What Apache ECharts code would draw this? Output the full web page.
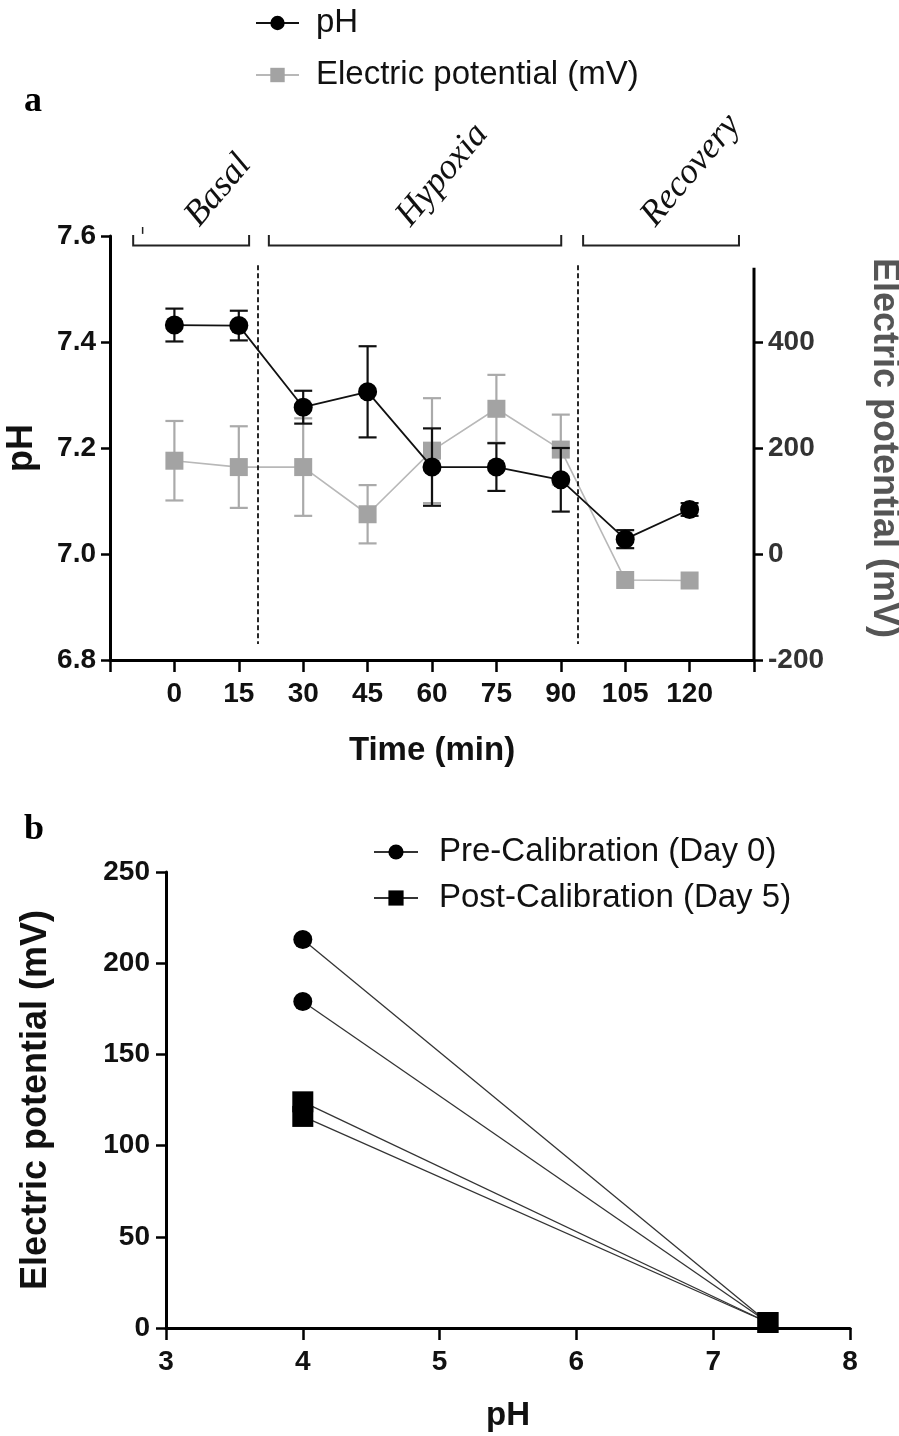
<!DOCTYPE html>
<html><head><meta charset="utf-8">
<script src="https://cdn.jsdelivr.net/npm/echarts@6/dist/echarts.min.js"></script>
<style>html,body{margin:0;padding:0;background:#fff}#c{width:899px;height:1436px}</style>
</head><body><div id="c"></div>
<script>
// ---------- Panel a data ----------
const timeMin = [0, 15, 30, 45, 60, 75, 90, 105, 120];
const phMean  = [7.432, 7.431, 7.277, 7.306, 7.164, 7.164, 7.140, 7.028, 7.084];
const phSD    = [0.031, 0.028, 0.031, 0.086, 0.073, 0.045, 0.060, 0.017, 0.012];
const epMean  = [176, 164, 164, 75, 195, 274, 197, -49, -50];
const epSD    = [75, 77, 92, 55, 99, 64, 66, 0, 0];
const phaseNames   = ['Basal', 'Hypoxia', 'Recovery'];
const phaseStart   = [-9.6, 22.0, 95.2];
const phaseEnd     = [17.4, 90.1, 131.5];
const phaseLabelAt = [7.3, 56.5, 113.5];
const phaseBoundaries = [19.5, 94.0];
// ---------- Panel b data ----------
const calPH = [4, 7.4];
const preDay0  = [[213, 3], [179, 3]];
const postDay5 = [[124, 3], [116, 3]];

const FONT = '"Liberation Sans", Arial, sans-serif';
const SERIF = '"Liberation Serif", "Times New Roman", serif';

function errRender(color) {
  return function (params, api) {
    const x = api.value(0), lo = api.value(1), hi = api.value(2);
    const p1 = api.coord([x, hi]), p2 = api.coord([x, lo]);
    const w = 9;
    const style = { stroke: color, lineWidth: 2.2, fill: null };
    return { type: 'group', children: [
      { type: 'line', shape: { x1: p1[0], y1: p1[1], x2: p2[0], y2: p2[1] }, style: style },
      { type: 'line', shape: { x1: p1[0] - w, y1: p1[1], x2: p1[0] + w, y2: p1[1] }, style: style },
      { type: 'line', shape: { x1: p2[0] - w, y1: p2[1], x2: p2[0] + w, y2: p2[1] }, style: style }
    ]};
  };
}

const phPairs = timeMin.map((t, i) => [t, phMean[i]]);
const epPairs = timeMin.map((t, i) => [t, epMean[i]]);
const phErr = timeMin.map((t, i) => [t, phMean[i] - phSD[i], phMean[i] + phSD[i]]).filter((d, i) => phSD[i] > 0);
const epErr = timeMin.map((t, i) => [t, epMean[i] - epSD[i], epMean[i] + epSD[i]]).filter((d, i) => epSD[i] > 0);

const tickLabel = { fontFamily: FONT, fontWeight: 'bold', fontSize: 28, color: '#111' };
const titleStyle = { fontFamily: FONT, fontWeight: 'bold', fontSize: 33, color: '#111' };
const vTitleStyle = { fontFamily: FONT, fontWeight: 'bold', fontSize: 36, color: '#111' };
const axLine = { show: true, onZero: false, lineStyle: { color: '#000', width: 3 } };
const axTick = (len) => ({ show: true, length: len, lineStyle: { color: '#000', width: 2.5 } });

const chart = echarts.init(document.getElementById('c'), null, { renderer: 'canvas' });

const bSeries = [];
preDay0.forEach(v => bSeries.push({
  name: 'Pre-Calibration (Day 0)', type: 'line', xAxisIndex: 1, yAxisIndex: 2,
  data: calPH.map((p, k) => [p, v[k]]), symbol: 'circle', symbolSize: 19,
  itemStyle: { color: '#000' }, lineStyle: { color: '#333', width: 1.3 }, z: 3
}));
postDay5.forEach(v => bSeries.push({
  name: 'Post-Calibration (Day 5)', type: 'line', xAxisIndex: 1, yAxisIndex: 2,
  data: calPH.map((p, k) => [p, v[k]]), symbol: 'rect', symbolSize: 21,
  itemStyle: { color: '#000' }, lineStyle: { color: '#333', width: 1.3 }, z: 4
}));

chart.setOption({
  animation: false,
  backgroundColor: '#fff',
  grid: [
    { left: 110, top: 236, width: 644, height: 424, containLabel: false, outerBoundsMode: 'none' },
    { left: 166, top: 872, width: 684, height: 456, containLabel: false, outerBoundsMode: 'none' }
  ],
  legend: [
    { data: ['pH', 'Electric potential (mV)'], orient: 'vertical', left: 250, top: 1,
      itemWidth: 43, itemHeight: 18, itemGap: 18, selectedMode: false,
      textStyle: { fontFamily: FONT, fontSize: 33, color: '#111', lineHeight: 34, padding: [0, 0, 0, 12] } },
    { data: ['Pre-Calibration (Day 0)', 'Post-Calibration (Day 5)'], orient: 'vertical', left: 368, top: 830,
      itemWidth: 44, itemHeight: 19, itemGap: 12, selectedMode: false,
      textStyle: { fontFamily: FONT, fontSize: 33, color: '#111', lineHeight: 34, padding: [0, 0, 0, 16] } }
  ],
  xAxis: [
    { gridIndex: 0, type: 'value', min: -15, max: 135, interval: 15,
      axisLine: axLine, axisTick: axTick(12), splitLine: { show: false },
      axisLabel: Object.assign({ margin: 20, formatter: v => (v < 0 || v > 120) ? '' : String(v) }, tickLabel),
      name: 'Time (min)', nameLocation: 'middle', nameGap: 74, nameTextStyle: titleStyle },
    { gridIndex: 1, type: 'value', min: 3, max: 8, interval: 1,
      axisLine: axLine, axisTick: axTick(12), splitLine: { show: false },
      axisLabel: Object.assign({ margin: 20 }, tickLabel),
      name: 'pH', nameLocation: 'middle', nameGap: 71, nameTextStyle: titleStyle }
  ],
  yAxis: [
    { gridIndex: 0, type: 'value', min: 6.8, max: 7.6, interval: 0.2, position: 'left',
      axisLine: axLine, axisTick: axTick(9), splitLine: { show: false },
      axisLabel: Object.assign({ margin: 14, formatter: v => v.toFixed(1) }, tickLabel),
      name: 'pH', nameLocation: 'middle', nameRotate: 90, nameGap: 70, nameTextStyle: vTitleStyle },
    { gridIndex: 0, type: 'value', min: -200, max: 600, interval: 200, position: 'right',
      axisLine: { show: false, onZero: false },
      axisTick: Object.assign(axTick(9), { customValues: [-200, 0, 200, 400] }),
      splitLine: { show: false },
      axisLabel: Object.assign({ margin: 14, customValues: [-200, 0, 200, 400], formatter: v => v > 400 ? '' : String(v) }, tickLabel, { color: '#333' }),
      name: 'Electric potential (mV)', nameLocation: 'middle', nameRotate: -90, nameGap: 112,
      nameTextStyle: Object.assign({}, vTitleStyle, { color: '#555' }) },
    { gridIndex: 1, type: 'value', min: 0, max: 250, interval: 50,
      axisLine: axLine, axisTick: axTick(10), splitLine: { show: false },
      axisLabel: Object.assign({ margin: 16 }, tickLabel),
      name: 'Electric potential (mV)', nameLocation: 'middle', nameRotate: 90, nameGap: 112, nameTextStyle: vTitleStyle }
  ],
  series: [
    { name: 'epErr', type: 'custom', xAxisIndex: 0, yAxisIndex: 1, data: epErr, renderItem: errRender('#aaaaaa'), z: 2, silent: true },
    { name: 'Electric potential (mV)', type: 'line', xAxisIndex: 0, yAxisIndex: 1, data: epPairs,
      symbol: 'rect', symbolSize: 18, itemStyle: { color: '#a3a3a3' }, lineStyle: { color: '#b8b8b8', width: 1.6 }, z: 3 },
    { name: 'phErr', type: 'custom', xAxisIndex: 0, yAxisIndex: 0, data: phErr, renderItem: errRender('#111'), z: 4, silent: true },
    { name: 'pH', type: 'line', xAxisIndex: 0, yAxisIndex: 0, data: phPairs,
      symbol: 'circle', symbolSize: 19, itemStyle: { color: '#000' }, lineStyle: { color: '#111', width: 1.8 }, z: 5,
      markLine: { silent: true, symbol: ['none', 'none'], label: { show: false },
        lineStyle: { color: '#111', width: 1.8, type: [5, 3] },
        data: phaseBoundaries.map(b => [{ coord: [b, 7.545] }, { coord: [b, 6.83] }]) } }
  ].concat(bSeries)
});

// ---------- annotations tied to axes ----------
const g = [];
const px = (x, y) => chart.convertToPixel({ xAxisIndex: 0, yAxisIndex: 0 }, [x, y]);
const pxR = (x, y) => chart.convertToPixel({ xAxisIndex: 0, yAxisIndex: 1 }, [x, y]);
// right axis line (shorter than plot)
const r1 = pxR(135, -200), r2 = pxR(135, 540);
g.push({ type: 'line', shape: { x1: r1[0], y1: r1[1] + 1.5, x2: r2[0], y2: r2[1] }, style: { stroke: '#000', lineWidth: 3 }, z: 10 });
phaseNames.forEach((nm, i) => {
  const a = px(phaseStart[i], 7.582), b = px(phaseEnd[i], 7.582);
  const top = px(0, 7.602)[1];
  g.push({ type: 'polyline', shape: { points: [[a[0], top], [a[0], a[1]], [b[0], b[1]], [b[0], top]] },
    style: { stroke: '#222', lineWidth: 2, fill: null }, z: 10 });
  const t = px(phaseLabelAt[i], 7.605);
  g.push({ type: 'text', x: t[0], y: t[1], rotation: 50 * Math.PI / 180,
    style: { text: nm, x: 0, y: 0, align: 'left', verticalAlign: 'bottom',
      font: 'italic 36px ' + SERIF, fill: '#111' }, z: 10 });
});
// small stray tick at left of Basal bracket
const s1 = px(-7.4, 7.604), s2 = px(-7.4, 7.617);
g.push({ type: 'line', shape: { x1: s1[0], y1: s1[1], x2: s2[0], y2: s2[1] }, style: { stroke: '#222', lineWidth: 1.5 }, z: 10 });
// panel letters
g.push({ type: 'text', left: 24, top: 84, style: { text: 'a', font: 'bold 36px ' + SERIF, fill: '#000' } });
g.push({ type: 'text', left: 24, top: 812, style: { text: 'b', font: 'bold 36px ' + SERIF, fill: '#000' } });
chart.setOption({ graphic: g });
</script>
</body></html>
